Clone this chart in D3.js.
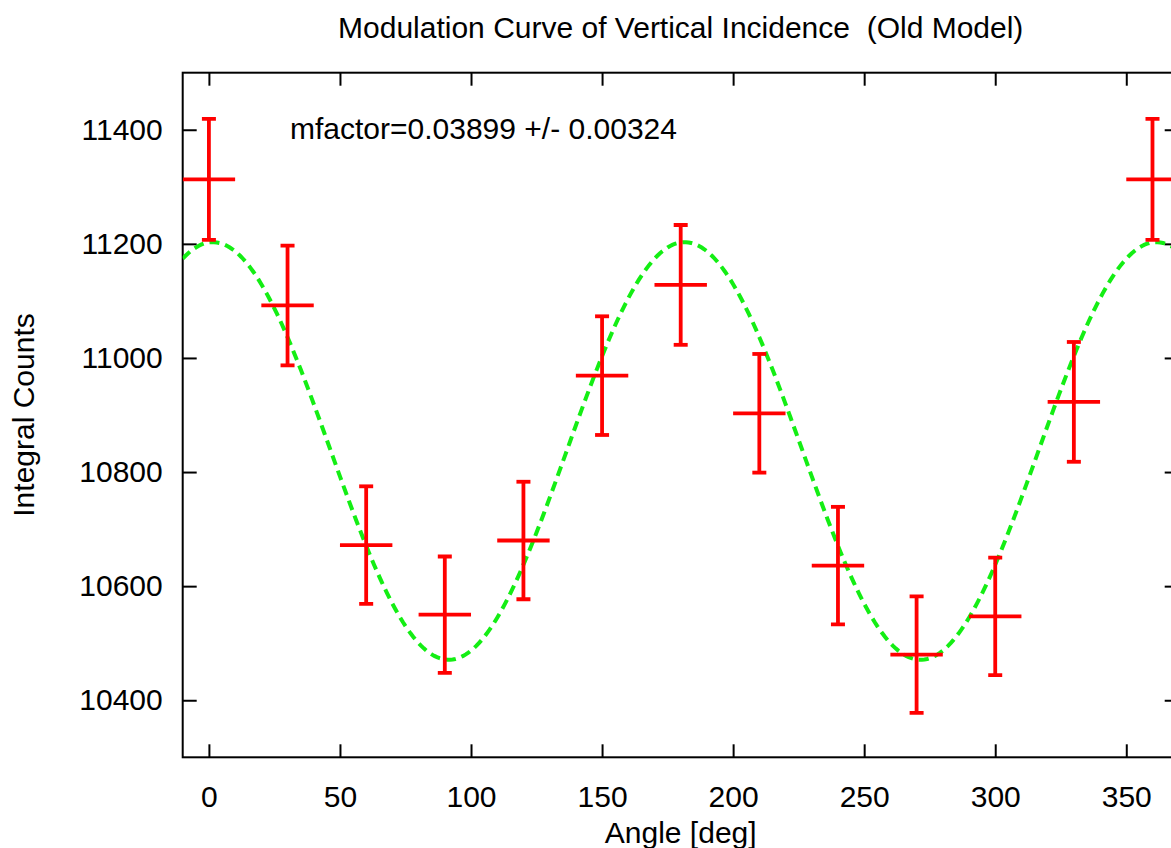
<!DOCTYPE html>
<html>
<head>
<meta charset="utf-8">
<script src="https://cdn.jsdelivr.net/npm/d3@7"></script>
<style>
  body { margin: 0; background: #fff; }
  svg { display: block; font-family: "Liberation Sans", Arial, sans-serif; }
</style>
</head>
<body>
<div id="chart"></div>
<script>
// measured points (angle in deg, integral counts)
var angles = [0, 30, 60, 90, 120, 150, 180, 210, 240, 270, 300, 330, 360];
var counts = [11313, 11092, 10672, 10550, 10680, 10969, 11128, 10903, 10636, 10480, 10547, 10923, 11313];
var countErr = [106, 105, 103, 102, 103, 104, 105, 104, 103, 102, 103, 105, 106];
var angleErr = 10;

// fitted modulation curve  f(a) = offset + amp * cos(2 (a - phase))
var fitOffset = 10837;
var fitAmp = 366;
var fitPhase = 1.5;

var xTicks = [0, 50, 100, 150, 200, 250, 300, 350];
var yTicks = [10400, 10600, 10800, 11000, 11200, 11400];

var titleText = "Modulation Curve of Vertical Incidence  (Old Model)";
var noteText = "mfactor=0.03899 +/- 0.00324";

var width = 1171, height = 848;
var plotL = 182.7, plotR = 1178.7, plotT = 72.7, plotB = 757.3;

var svg = d3.select('#chart')
    .append('svg')
    .attr('width', width)
    .attr('height', height)

var x = d3.scaleLinear().domain([-10, 370]).range([plotL, plotR])
var y = d3.scaleLinear().domain([10300, 11500]).range([plotB, plotT])

svg.append('clipPath')
    .attr('id', 'plotClip')
    .append('rect')
    .attr('x', plotL).attr('y', plotT)
    .attr('width', plotR - plotL).attr('height', plotB - plotT)

var fontSize = 30;

// axes with inward ticks, mirrored on top/right
var xAxisB = d3.axisBottom(x).tickValues(xTicks).tickSizeInner(-13).tickSizeOuter(0).tickPadding(28).tickFormat(d3.format('d'))
var xAxisT = d3.axisTop(x).tickValues(xTicks).tickSizeInner(-13).tickSizeOuter(0).tickFormat('')
var yAxisL = d3.axisLeft(y).tickValues(yTicks).tickSizeInner(-14).tickSizeOuter(0).tickPadding(20).tickFormat(d3.format('d'))
var yAxisR = d3.axisRight(y).tickValues(yTicks).tickSizeInner(-14).tickSizeOuter(0).tickFormat('')

function styleAxis(g) {
    g.select('.domain').remove()
    g.selectAll('.tick line').attr('stroke', '#000').attr('stroke-width', 2)
    g.selectAll('.tick text')
        .attr('fill', '#000')
        .style('font-size', fontSize + 'px')
        .style('font-family', '"Liberation Sans", Arial, sans-serif')
}

svg.append('g').attr('transform', 'translate(0,' + plotB + ')').call(xAxisB).call(styleAxis)
svg.append('g').attr('transform', 'translate(0,' + plotT + ')').call(xAxisT).call(styleAxis)
svg.append('g').attr('transform', 'translate(' + plotL + ',0)').call(yAxisL).call(styleAxis)
svg.append('g').attr('transform', 'translate(' + plotR + ',0)').call(yAxisR).call(styleAxis)

// frame
svg.append('rect')
    .attr('x', plotL).attr('y', plotT)
    .attr('width', plotR - plotL).attr('height', plotB - plotT)
    .attr('fill', 'none')
    .attr('stroke', '#000')
    .attr('stroke-width', 2)

// fit curve
var fitAngles = d3.range(-10, 370.5, 1)
var line = d3.line()
    .x(function(a) { return x(a) })
    .y(function(a) { return y(fitOffset + fitAmp * Math.cos(2 * (a - fitPhase) * Math.PI / 180)) })

svg.append('path')
    .datum(fitAngles)
    .attr('clip-path', 'url(#plotClip)')
    .attr('d', line)
    .attr('fill', 'none')
    .attr('stroke', '#14ee14')
    .attr('stroke-width', 4)
    .attr('stroke-dasharray', '10,6')

// error bar crosses
var points = angles.map(function(a, i) {
    return { angle: a, count: counts[i], err: countErr[i] }
})

var marks = svg.append('g')
    .attr('clip-path', 'url(#plotClip)')
    .selectAll('g')
    .data(points)
    .enter()
    .append('g')
    .attr('stroke', '#ff0000')
    .attr('stroke-width', 3.8)

marks.append('line')
    .attr('x1', function(d) { return x(d.angle) })
    .attr('x2', function(d) { return x(d.angle) })
    .attr('y1', function(d) { return y(d.count + d.err) })
    .attr('y2', function(d) { return y(d.count - d.err) })

marks.append('line')
    .attr('x1', function(d) { return x(d.angle - angleErr) })
    .attr('x2', function(d) { return x(d.angle + angleErr) })
    .attr('y1', function(d) { return y(d.count) })
    .attr('y2', function(d) { return y(d.count) })

marks.append('line')
    .attr('x1', function(d) { return x(d.angle) - 7 })
    .attr('x2', function(d) { return x(d.angle) + 7 })
    .attr('y1', function(d) { return y(d.count + d.err) })
    .attr('y2', function(d) { return y(d.count + d.err) })

marks.append('line')
    .attr('x1', function(d) { return x(d.angle) - 7 })
    .attr('x2', function(d) { return x(d.angle) + 7 })
    .attr('y1', function(d) { return y(d.count - d.err) })
    .attr('y2', function(d) { return y(d.count - d.err) })

// texts
svg.append('text')
    .attr('x', (plotL + plotR) / 2)
    .attr('y', 38)
    .attr('text-anchor', 'middle')
    .style('font-size', fontSize + 'px')
    .style('white-space', 'pre')
    .text(titleText)

svg.append('text')
    .attr('x', 290)
    .attr('y', 139)
    .style('font-size', fontSize + 'px')
    .text(noteText)

svg.append('text')
    .attr('x', (plotL + plotR) / 2)
    .attr('y', 843)
    .attr('text-anchor', 'middle')
    .style('font-size', fontSize + 'px')
    .text('Angle [deg]')

svg.append('text')
    .attr('transform', 'translate(34,' + ((plotT + plotB) / 2) + ') rotate(-90)')
    .attr('text-anchor', 'middle')
    .style('font-size', fontSize + 'px')
    .text('Integral Counts')
</script>
</body>
</html>
